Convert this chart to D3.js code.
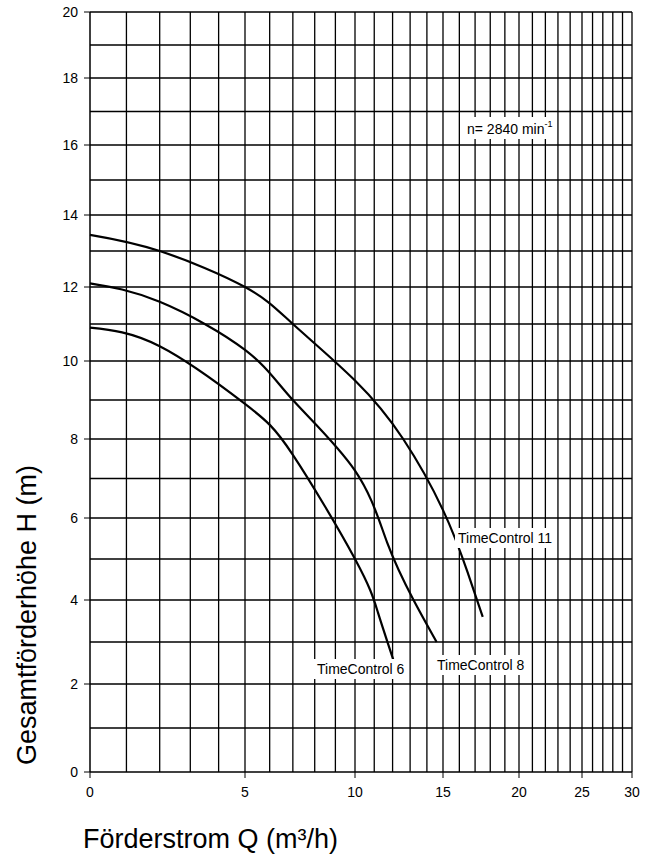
<!DOCTYPE html>
<html>
<head>
<meta charset="utf-8">
<script src="https://cdn.jsdelivr.net/npm/d3@7"></script>
<style>
body { margin: 0; background: #fff; }
text { font-family: Arial, "Liberation Sans", sans-serif; }
</style>
</head>
<body>
<script>
var xTicks = [0, 5, 10, 15, 20, 25, 30];
var yTicks = [0, 2, 4, 6, 8, 10, 12, 14, 16, 18, 20];
var xGrid = d3.range(1, 31);
var yGrid = d3.range(0, 21);

var tc6Q = [0, 2, 5, 7, 10, 11.2, 12.1];
var tc6H = [10.9, 10.4, 8.9, 7.6, 5.0, 3.7, 2.5];
var tc8Q = [0, 2, 5, 7, 10, 11.7, 13.2, 14.6];
var tc8H = [12.1, 11.6, 10.3, 9.0, 7.2, 5.4, 4.0, 3.0];
var tc11Q = [0, 2, 5, 7, 10, 12.6, 15, 16.5, 17.5];
var tc11H = [13.45, 13.0, 12.0, 11.0, 9.5, 8.0, 6.2, 4.7, 3.6];

var width = 652, height = 862;
var pLeft = 90, pRight = 632, pTop = 12, pBottom = 772;

var svg = d3.select("body").append("svg")
    .attr("width", width)
    .attr("height", height);

// x axis is a distorted (log-like) scale, pinned at the tick positions
var tq = function(q) { return Math.log(1 + q / 10); };
var xBase = d3.scaleLinear()
    .domain(xTicks.map(tq))
    .range([pLeft, 245, 355, 443, 519, 582, pRight]);
var x = function(q) { return xBase(tq(q)); };

var y = d3.scaleLinear()
    .domain(yTicks)
    .range([pBottom, 684, 600, 518, 439, 361, 287, 215, 145, 78, pTop]);

// grid
svg.append("g").selectAll("line").data(xGrid).join("line")
    .attr("x1", d => x(d)).attr("x2", d => x(d))
    .attr("y1", pTop).attr("y2", pBottom)
    .style("stroke", "#000").style("stroke-width", 1.3);

svg.append("g").selectAll("line").data(yGrid).join("line")
    .attr("x1", pLeft).attr("x2", pRight)
    .attr("y1", d => y(d)).attr("y2", d => y(d))
    .style("stroke", "#000").style("stroke-width", 1.3);

svg.append("line")
    .attr("x1", pLeft).attr("x2", pLeft).attr("y1", pTop).attr("y2", pBottom)
    .style("stroke", "#000").style("stroke-width", 1.5);

// y ticks
var yt = svg.append("g").selectAll("g").data(yTicks).join("g");
yt.append("line")
    .attr("x1", pLeft - 6).attr("x2", pLeft)
    .attr("y1", d => y(d)).attr("y2", d => y(d))
    .style("stroke", "#000");
yt.append("text")
    .attr("x", pLeft - 12).attr("y", d => y(d) + 5)
    .attr("text-anchor", "end").attr("font-size", 14)
    .text(d => d);

// x ticks
var xt = svg.append("g").selectAll("g").data(xTicks).join("g");
xt.append("line")
    .attr("x1", d => x(d)).attr("x2", d => x(d))
    .attr("y1", pBottom).attr("y2", pBottom + 6)
    .style("stroke", "#000");
xt.append("text")
    .attr("x", d => x(d)).attr("y", pBottom + 25)
    .attr("text-anchor", "middle").attr("font-size", 14)
    .text(d => d);

// curves
var line = d3.line().x(d => x(d[0])).y(d => y(d[1])).curve(d3.curveNatural);
[[tc6Q, tc6H], [tc8Q, tc8H], [tc11Q, tc11H]].forEach(function(s) {
    svg.append("path")
        .datum(d3.zip(s[0], s[1]))
        .attr("d", line)
        .style("fill", "none").style("stroke", "#000").style("stroke-width", 2.2);
});

// labels with white boxes
function boxed(g) {
    var b = g.select("text").node().getBBox();
    g.insert("rect", "text")
        .attr("x", b.x - 3).attr("y", b.y - 2)
        .attr("width", b.width + 6).attr("height", b.height + 4)
        .style("fill", "#fff");
}
function label(tx, ty, str) {
    var g = svg.append("g");
    g.append("text").attr("x", tx).attr("y", ty)
        .attr("font-size", 14).text(str);
    boxed(g);
}
label(458, 543, "TimeControl 11");
label(437, 670, "TimeControl 8");
label(317, 674, "TimeControl 6");

var ng = svg.append("g");
var n = ng.append("text").attr("x", 467).attr("y", 134).attr("font-size", 14);
n.append("tspan").text("n= 2840 min");
n.append("tspan").attr("dy", -7).attr("font-size", 9).text("-1");
boxed(ng);

// axis titles
svg.append("text")
    .attr("transform", "translate(36,615) rotate(-90)")
    .attr("text-anchor", "middle").attr("font-size", 27)
    .text("Gesamtförderhöhe H (m)");
svg.append("text")
    .attr("x", 83).attr("y", 848).attr("font-size", 27)
    .text("Förderstrom Q (m³/h)");
</script>
</body>
</html>
